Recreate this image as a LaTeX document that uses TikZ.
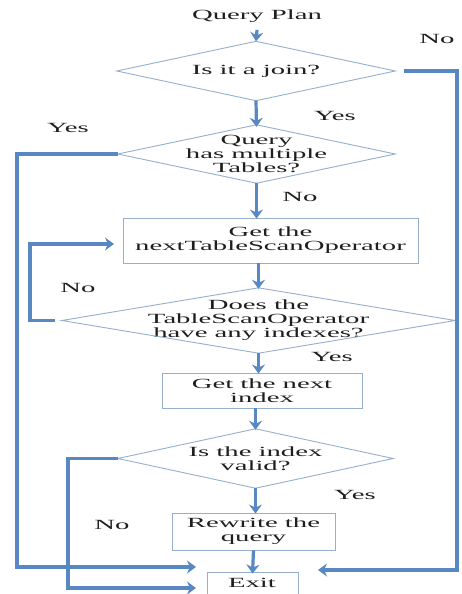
\documentclass[tikz,border=0pt]{standalone}
\usepackage{fontspec}
\setmainfont{Liberation Serif}[FakeStretch=2.05]
\usetikzlibrary{arrows.meta,calc}
\definecolor{conn}{RGB}{88,136,195}
\definecolor{shp}{RGB}{150,175,206}
\definecolor{txt}{RGB}{30,30,30}
\begin{document}
\begin{tikzpicture}[x=1pt,y=-1pt,
  every node/.style={font=\fontsize{14}{14}\selectfont, text=txt},
  boxnode/.style={draw=shp, line width=0.9pt, rectangle, inner sep=0pt, align=center},
  dianode/.style={rectangle, inner sep=0pt, align=center},
  lbl/.style={inner sep=0pt},
  arr/.style={draw=conn, line width=3.2pt, -{Stealth[length=9pt,width=13pt,inset=3pt]}},
  ln/.style={draw=conn, line width=3.2pt}]
\useasboundingbox[fill=white] (0,0) rectangle (462,594);

\node (qp) at (257,16) {Query Plan};
\node[dianode, minimum width=278pt, minimum height=59pt] (d1) at (256,71) {Is it a join?};
\node[dianode, minimum width=277pt, minimum height=58pt] (d2) at (256.5,154) {Query\\has multiple\\Tables?};
\node[boxnode, minimum width=295pt, minimum height=45pt] (b3) at (270.5,240.5) {Get the\\nextTableScanOperator};
\node[dianode, minimum width=393pt, minimum height=65pt] (d3) at (258.5,320.5) {Does the\\TableScanOperator\\have any indexes?};
\node[boxnode, minimum width=200pt, minimum height=35pt] (b4) at (262,390.5) {Get the next\\index};
\node[dianode, minimum width=275pt, minimum height=59pt] (d4) at (255.5,458.5) {Is the index\\valid?};
\node[boxnode, minimum width=163pt, minimum height=37pt] (b5) at (253.5,531.5) {Rewrite the\\query};
\node[boxnode, minimum width=91pt, minimum height=28pt] (ex) at (252.5,586) {};
\node (extext) at (252,583) {Exit};

\foreach \n in {d1,d2,d3,d4}
  \draw[shp, line width=0.9pt] (\n.north) -- (\n.east) -- (\n.south) -- (\n.west) -- cycle;

% labels
\node[lbl] (lno1) at (437,39) {No};
\node[lbl] (lyes1) at (335,116) {Yes};
\node[lbl] (lyes2) at (68,128) {Yes};
\node[lbl] (lno2) at (300,197) {No};
\node[lbl] (lno3) at (78,288) {No};
\node[lbl] (lyes3) at (332,357) {Yes};
\node[lbl] (lyes4) at (355,495) {Yes};
\node[lbl] (lno4) at (112,525) {No};

% coordinates for loops
\coordinate (rr) at (457,570);
\coordinate (rre) at (318,570);
\coordinate (l1) at (17,567);
\coordinate (l1e) at (196,567);
\coordinate (l2) at (30,244);
\coordinate (l2e) at (114,244);
\coordinate (l3) at (68,588);
\coordinate (l3e) at (196,588);

% vertical flow
\draw[arr] ([yshift=-4pt]qp.south) -- (d1.north);
\draw[arr] (d1.south) -- ([yshift=-2pt]d2.north);
\draw[arr] (d2.south) -- ([yshift=-1pt]d2.south |- b3.north);
\draw[arr] (d3.north |- b3.south) -- ([yshift=-1pt]d3.north);
\draw[arr] (d3.south) -- ([yshift=-1pt]d3.south |- b4.north);
\draw[arr] (d4.north |- b4.south) -- ([yshift=-1pt]d4.north);
\draw[arr] (d4.south) -- ([yshift=-1pt]d4.south |- b5.north);
\draw[arr] (b5.south) -- ([yshift=-2pt]ex.north);

% side connectors
\draw[arr] ([xshift=9pt]d1.east) -| (rr) -- (rre);
\draw[arr] (d2.west) -| (l1) -- (l1e);
\draw[arr] ([xshift=-7pt]d3.west) -| (l2) -- (l2e);
\draw[arr] (d4.west) -| (l3) -- (l3e);
\end{tikzpicture}
\end{document}
